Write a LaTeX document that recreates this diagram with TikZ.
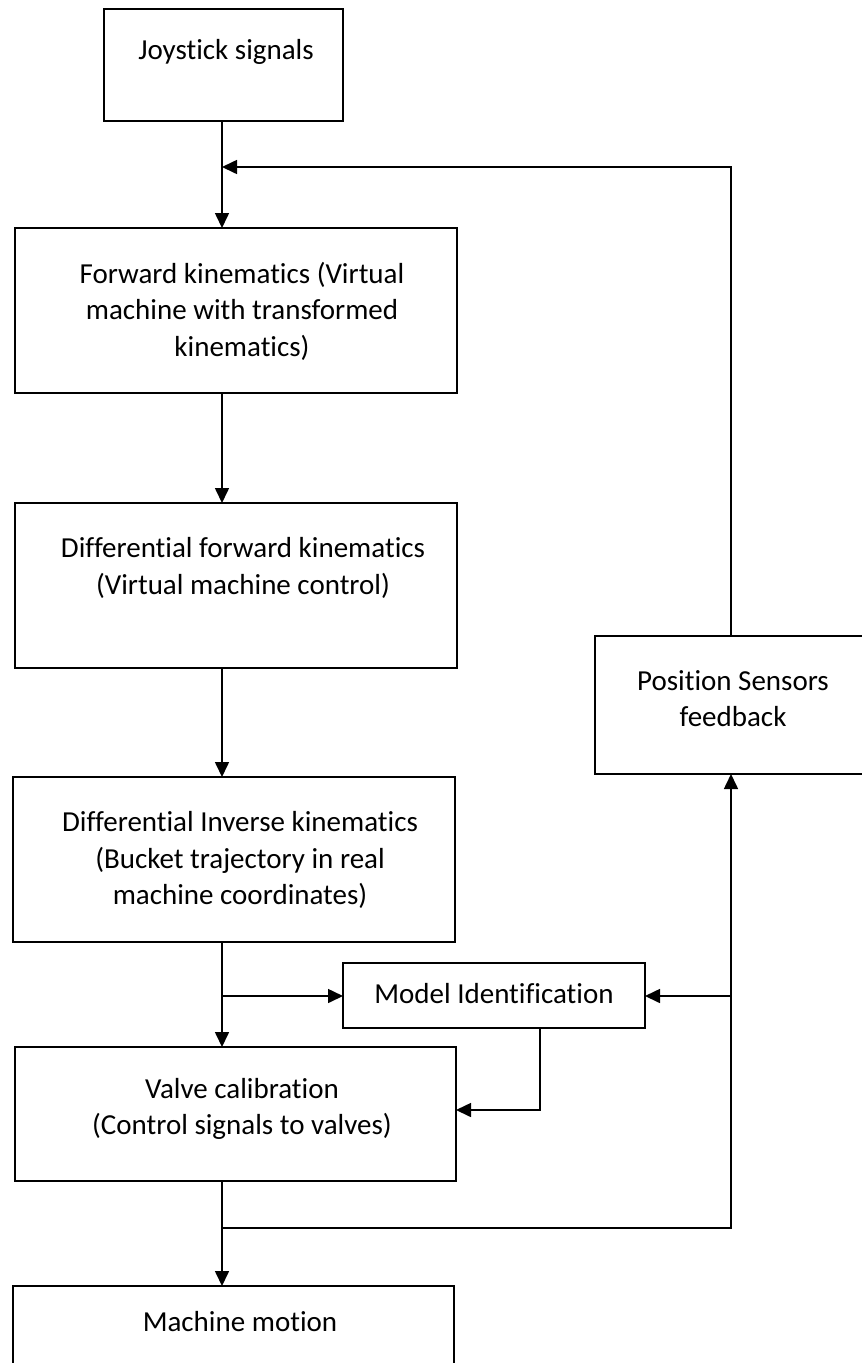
\documentclass[tikz,border=0pt]{standalone}
\usepackage{fontspec}
\setmainfont{Carlito}[Ligatures=NoCommon]
\usetikzlibrary{arrows.meta,calc}
\begin{document}
\begin{tikzpicture}[x=1pt,y=-1pt,
  box/.style={draw,line width=1.6pt,inner sep=0pt,outer sep=0pt},
  lbl/.style={align=center,inner sep=0pt,font=\fontsize{29}{36.5}\selectfont},
  conn/.style={line width=1.6pt},
  arr/.style={conn,-{Triangle[length=15pt,width=14pt]}}]
\useasboundingbox (0,0) rectangle (862,1363);
\clip (0,0) rectangle (862,1363);
\fill[white] (0,0) rectangle (862,1363);
% spine and feedback column
\coordinate (spine) at (222,0);
\coordinate (fbx) at (731,0);
% boxes
\node[box,minimum width=239pt,minimum height=112pt] (J) at (223.5,65) {};
\node[box,minimum width=442pt,minimum height=165pt] (F) at (236,310.5) {};
\node[box,minimum width=442pt,minimum height=165pt] (DF) at (236,585.5) {};
\node[box,minimum width=442pt,minimum height=165pt] (DI) at (234,859.5) {};
\node[box,minimum width=302pt,minimum height=65pt] (MI) at (494,995.5) {};
\node[box,minimum width=441pt,minimum height=134pt] (V) at (235.5,1114) {};
\node[box,minimum width=441pt,minimum height=130pt] (MM) at (233.5,1351) {};
\node[box,minimum width=290pt,minimum height=138pt] (PS) at (740,705) {};
% texts
\node[lbl] (Jt) at (226,52) {Joystick signals};
\node[lbl] (Ft) at (242,311) {Forward kinematics (Virtual\\machine with transformed\\kinematics)};
\node[lbl] (DFt) at (243,568) {Differential forward kinematics\\(Virtual machine control)};
\node[lbl] (DIt) at (240,860) {Differential Inverse kinematics\\(Bucket trajectory in real\\machine coordinates)};
\node[lbl] (MIt) at (494,994) {Model Identification};
\node[lbl] (Vt) at (242,1109) {Valve calibration\\(Control signals to valves)};
\node[lbl] (MMt) at (240,1322) {Machine motion};
\node[lbl] (PSt) at (733,698.5) {Position Sensors\\feedback};
% junction coordinates
\coordinate (jfb) at (222,167);
\coordinate (jmi) at (222,996);
\coordinate (jv) at (222,1228);
\coordinate (jps) at (731,996);
% connectors
\draw[arr] (J.south -| spine) -- (F.north -| spine);
\draw[arr] (PS.north -| fbx) |- (jfb);
\draw[arr] (F.south -| spine) -- (DF.north -| spine);
\draw[arr] (DF.south -| spine) -- (DI.north -| spine);
\draw[arr] (DI.south -| spine) -- (V.north -| spine);
\draw[arr] (jmi) -- (MI.west |- jmi);
\draw[arr] (MI.south -| 540,0) |- (V.east |- 0,1110);
\draw[arr] (V.south -| spine) -- (MM.north -| spine);
\draw[arr] (jv) -| (PS.south -| fbx);
\draw[arr] (jps) -- (MI.east |- jps);
\end{tikzpicture}
\end{document}
